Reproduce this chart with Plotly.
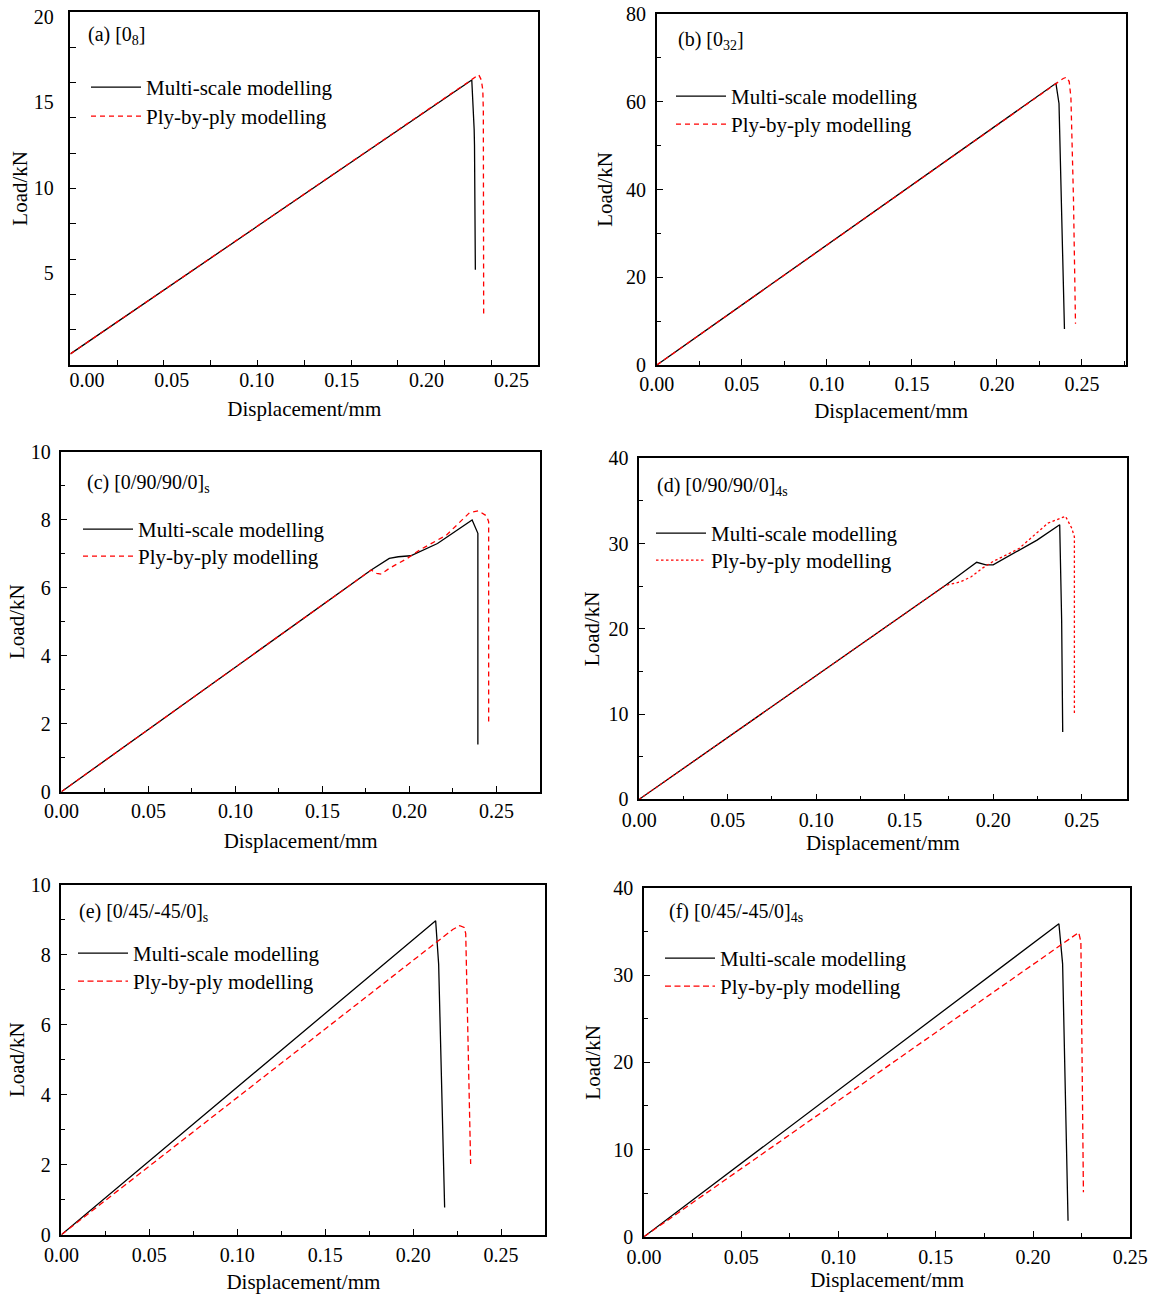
import plotly.graph_objects as go

W, H = 1154, 1294
FONT = "Liberation Serif"

# ---------------- data (Displacement/mm, Load/kN) ----------------
# (a) [0_8]
a_multi_x = [-0.0097, 0.2266, 0.2280, 0.2282, 0.2287]
a_multi_y = [0.28, 16.3, 13.4, 12.5, 5.2]
a_ply_x = [-0.0097, 0.2266, 0.2290, 0.2307, 0.2322, 0.2331, 0.2334, 0.2336]
a_ply_y = [0.28, 16.3, 16.5, 16.6, 16.3, 15.7, 14.5, 2.6]

# (b) [0_32]
b_multi_x = [0, 0.2347, 0.2365, 0.2397]
b_multi_y = [0, 64.2, 59.6, 8.2]
b_ply_x = [0, 0.2347, 0.2390, 0.2410, 0.2425, 0.2435, 0.2450, 0.2462]
b_ply_y = [0, 64.2, 65.3, 65.6, 64.6, 61.0, 38.0, 9.4]

# (c) [0/90/90/0]s
c_multi_x = [0, 0.178, 0.1884, 0.1936, 0.2007, 0.2161, 0.2360, 0.2387, 0.2393, 0.2393]
c_multi_y = [0, 6.52, 6.86, 6.91, 6.94, 7.30, 7.99, 7.70, 7.60, 1.39]
c_ply_x = [0, 0.178, 0.1812, 0.1839, 0.1884, 0.1987, 0.2059, 0.2213, 0.2346, 0.2397, 0.2443, 0.2455, 0.2455]
c_ply_y = [0, 6.52, 6.42, 6.40, 6.57, 6.86, 7.11, 7.55, 8.21, 8.26, 8.11, 7.94, 2.01]

# (d) [0/90/90/0]4s
d_multi_x = [0, 0.1731, 0.1907, 0.1959, 0.2000, 0.2103, 0.2248, 0.2376, 0.2387, 0.2393]
d_multi_y = [0, 25.1, 27.8, 27.5, 27.5, 28.7, 30.4, 32.2, 21.0, 7.9]
d_ply_x = [0, 0.1731, 0.1814, 0.1876, 0.1938, 0.2000, 0.2145, 0.2310, 0.2409, 0.2444, 0.2459, 0.2459]
d_ply_y = [0, 25.1, 25.5, 26.1, 27.1, 27.9, 29.4, 32.4, 33.2, 31.8, 30.8, 9.9]

# (e) [0/45/-45/0]s
e_multi_x = [0, 0.2128, 0.2145, 0.2179]
e_multi_y = [0, 8.97, 7.73, 0.78]
e_ply_x = [0, 0.2139, 0.2225, 0.2265, 0.2290, 0.2299, 0.2327]
e_ply_y = [0, 8.40, 8.72, 8.83, 8.78, 8.60, 2.02]

# (f) [0/45/-45/0]4s
f_multi_x = [0, 0.2133, 0.2152, 0.2180]
f_multi_y = [0, 35.9, 31.3, 1.84]
f_ply_x = [0, 0.2137, 0.2235, 0.2246, 0.2259]
f_ply_y = [0, 33.4, 34.9, 33.8, 5.1]

panel_labels = ["(a) [0<sub>8</sub>]", "(b) [0<sub>32</sub>]",
                "(c) [0/90/90/0]<sub>s</sub>", "(d) [0/90/90/0]<sub>4s</sub>",
                "(e) [0/45/-45/0]<sub>s</sub>", "(f) [0/45/-45/0]<sub>4s</sub>"]
series_names = ["Multi-scale modelling", "Ply-by-ply modelling"]
x_title = "Displacement/mm"
y_title = "Load/kN"
x_ticks = [0.00, 0.05, 0.10, 0.15, 0.20, 0.25]
a_y_ticks = [5, 10, 15, 20]

# ---------------- layout geometry (pixels) ----------------
boxes = [  # left, right, top, bottom
    (70.4, 538.2, 11.7, 365.0),
    (656.8, 1125.5, 14.0, 365.0),
    (61.4, 540.0, 451.7, 791.7),
    (639.2, 1126.6, 458.3, 799.3),
    (61.4, 545.4, 884.7, 1234.7),
    (644.0, 1130.3, 888.0, 1236.7),
]
xranges = [[-0.0097, 0.2657], [0, 0.2756], [0, 0.275], [0, 0.2754], [0, 0.2752], [0, 0.25]]
yranges = [[-0.37, 20.29], [0, 80], [0, 10], [0, 40], [0, 10], [0, 40]]
ydticks = [5, 20, 2, 10, 2, 10]
x_lab_standoff = [-4, 0, 1, 2, 2, 2]
x_title_standoff = [12, 10, 12, 4, 9, 5]
y_title_standoff = [0, 8, 0, 3, 0, 7]
label_pos = [(86, 35), (676, 40), (85, 483), (655, 487), (77, 912), (667, 912)]
# legend left x, top y of each entry (multi, ply)
legend_pos = [(86, 67, 96), (671, 76, 104), (78, 509, 536),
              (651, 513, 540), (73, 933, 961), (660, 938, 966)]
ply_dash = ["5px,4px", "5px,4px", "5px,4px", "2.5px,2.5px", "6px,3.5px", "6px,3.5px"]

data = [
    (a_multi_x, a_multi_y, a_ply_x, a_ply_y),
    (b_multi_x, b_multi_y, b_ply_x, b_ply_y),
    (c_multi_x, c_multi_y, c_ply_x, c_ply_y),
    (d_multi_x, d_multi_y, d_ply_x, d_ply_y),
    (e_multi_x, e_multi_y, e_ply_x, e_ply_y),
    (f_multi_x, f_multi_y, f_ply_x, f_ply_y),
]

fig = go.Figure()
layout = dict(
    width=W, height=H, margin=dict(l=0, r=0, t=0, b=0, autoexpand=False),
    paper_bgcolor="white", plot_bgcolor="white", showlegend=True,
    font=dict(family=FONT, size=21, color="black"),
    annotations=[],
)


def legend_name(k):
    return "legend" if k == 1 else f"legend{k}"


for i, (mx, my, px, py) in enumerate(data):
    n = i + 1
    xa = "x" if n == 1 else f"x{n}"
    ya = "y" if n == 1 else f"y{n}"
    lg1 = legend_name(2 * i + 1)
    lg2 = legend_name(2 * i + 2)
    fig.add_trace(go.Scatter(x=mx, y=my, mode="lines", name=series_names[0],
                             line=dict(color="black", width=1.3), showlegend=True,
                             xaxis=xa, yaxis=ya, legend=lg1))
    fig.add_trace(go.Scatter(x=px, y=py, mode="lines", name=series_names[1],
                             line=dict(color="red", width=1.3, dash=ply_dash[i]),
                             showlegend=True, xaxis=xa, yaxis=ya, legend=lg2))

    l, r, t, b = boxes[i]
    common = dict(showline=True, linecolor="black", linewidth=1.5, mirror=True,
                  showgrid=False, zeroline=False, ticks="inside", automargin=False,
                  tickcolor="black", tickwidth=1.2, tickfont=dict(size=20))
    xr, yr = xranges[i], yranges[i]
    xaxis = dict(common, domain=[l / W, r / W], range=xr, anchor=ya,
                 tickmode="array", tickvals=x_ticks,
                 ticktext=[f"{v:.2f}" for v in x_ticks],
                 title=dict(text=x_title, font=dict(size=21), standoff=x_title_standoff[i]),
                 ticklabelstandoff=x_lab_standoff[i])
    yaxis = dict(common, domain=[1 - b / H, 1 - t / H], range=yr, anchor=xa,
                 title=dict(text=y_title, font=dict(size=21), standoff=y_title_standoff[i]),
                 ticklabelstandoff=5)
    if n == 1:
        # in panel (a) the tick marks sit at tenths of the frame, not at labels
        xaxis.update(ticklen=0,
                     minor=dict(ticks="inside", tickmode="array", ticklen=5,
                                tickwidth=1.2, tickcolor="black",
                                tickvals=[xr[0] + k * (xr[1] - xr[0]) / 10 for k in range(1, 10)]))
        yaxis.update(tickmode="array", tickvals=a_y_ticks, ticklen=0,
                     ticklabelstandoff=11,
                     minor=dict(ticks="inside", tickmode="array", ticklen=6,
                                tickwidth=1.2, tickcolor="black",
                                tickvals=[yr[0] + k * (yr[1] - yr[0]) / 10 for k in range(1, 10)]))
    else:
        xaxis.update(ticklen=6, minor=dict(ticks="inside", dtick=0.025, tick0=0, ticklen=4,
                                           tickwidth=1.2, tickcolor="black"))
        yaxis.update(tickmode="linear", tick0=0, dtick=ydticks[i], ticklen=6,
                     minor=dict(ticks="inside", dtick=ydticks[i] / 2, tick0=0, ticklen=4,
                                tickwidth=1.2, tickcolor="black"))
    layout["xaxis" if n == 1 else f"xaxis{n}"] = xaxis
    layout["yaxis" if n == 1 else f"yaxis{n}"] = yaxis

    lx, ly1, ly2 = legend_pos[i]
    for lg, ly in ((lg1, ly1), (lg2, ly2)):
        layout[lg] = dict(x=lx / W, y=1 - ly / H, xanchor="left", yanchor="top",
                          bgcolor="rgba(0,0,0,0)", font=dict(size=21, family=FONT),
                          itemwidth=50, visible=True)

    tx, ty = label_pos[i]
    layout["annotations"].append(dict(text=panel_labels[i], xref="paper", yref="paper",
                                      x=tx / W, y=1 - ty / H, xanchor="left",
                                      yanchor="middle", showarrow=False,
                                      font=dict(size=20, family=FONT)))

fig.update_layout(**layout)
fig.write_html("out.html", config={"displayModeBar": False},
               post_script="document.body.style.margin='0px';")
